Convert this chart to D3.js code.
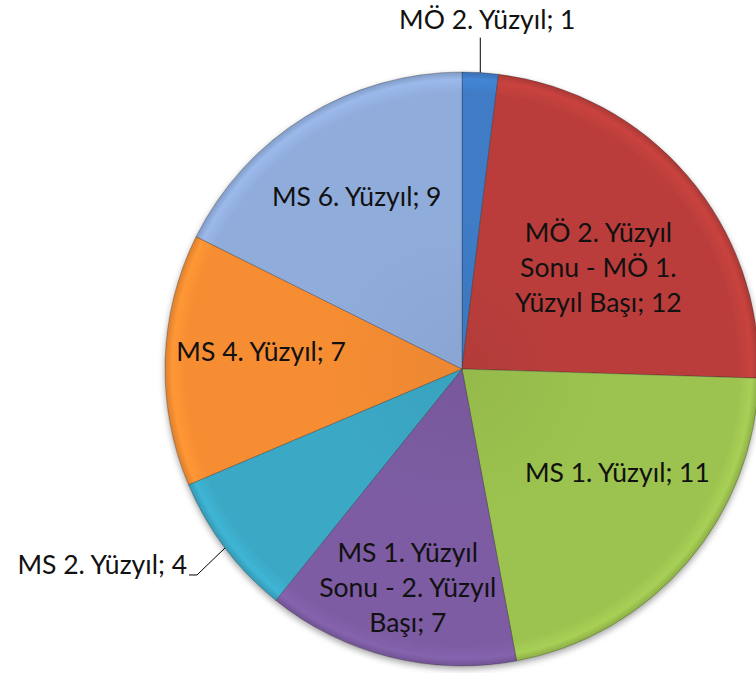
<!DOCTYPE html>
<html>
<head>
<meta charset="utf-8">
<script src="https://cdn.jsdelivr.net/npm/d3@7"></script>
<style>
  html, body { margin: 0; padding: 0; background: #fff; }
  svg { display: block; }
</style>
</head>
<body>
<svg id="chart" width="756" height="673"></svg>
<script>
// Dönem başına buluntu sayısı
const categories = [
  "MÖ 2. Yüzyıl",
  "MÖ 2. Yüzyıl Sonu - MÖ 1. Yüzyıl Başı",
  "MS 1. Yüzyıl",
  "MS 1. Yüzyıl Sonu - 2. Yüzyıl Başı",
  "MS 2. Yüzyıl",
  "MS 4. Yüzyıl",
  "MS 6. Yüzyıl"
];
const values = [1, 12, 11, 7, 4, 7, 9];
// Label text split into the lines drawn inside each slice
const labelLines = [
  ["MÖ 2. Yüzyıl; 1"],
  ["MÖ 2. Yüzyıl", "Sonu - MÖ 1.", "Yüzyıl Başı; 12"],
  ["MS 1. Yüzyıl; 11"],
  ["MS 1. Yüzyıl", "Sonu - 2. Yüzyıl", "Başı; 7"],
  ["MS 2. Yüzyıl; 4"],
  ["MS 4. Yüzyıl; 7"],
  ["MS 6. Yüzyıl; 9"]
];
const colors = ["#3f7cc6", "#bb3e3b", "#9cc24f", "#7d5ca3", "#3ba9c6", "#f68d32", "#90acdb"];

const W = 756, H = 673;
const cx = 462, cy = 369, R = 297;
const fontSize = 26.5;
const lineH = 35;

const svg = d3.select("#chart");
const defs = svg.append("defs");

// soft shadow under the pie
const shadow = defs.append("filter").attr("id", "shadow")
  .attr("x", "-10%").attr("y", "-10%").attr("width", "120%").attr("height", "125%");
shadow.append("feDropShadow").attr("dx", 0).attr("dy", 3).attr("stdDeviation", 3)
  .attr("flood-color", "#000").attr("flood-opacity", 0.35);

// bevel-like radial shading per slice colour (pie group is centred at 0,0)
colors.forEach((c, i) => {
  const base = d3.color(c);
  const g = defs.append("radialGradient").attr("id", "grad" + i)
    .attr("gradientUnits", "userSpaceOnUse")
    .attr("cx", 0).attr("cy", 0).attr("r", R);
  g.append("stop").attr("offset", 0).attr("stop-color", base.darker(0.12));
  g.append("stop").attr("offset", 0.5).attr("stop-color", base);
  g.append("stop").attr("offset", 0.93).attr("stop-color", base);
  g.append("stop").attr("offset", 0.975).attr("stop-color", base.brighter(0.2));
  g.append("stop").attr("offset", 1).attr("stop-color", base.darker(0.3));
});

const pie = d3.pie().sort(null).value(d => d)(values);
const arc = d3.arc().innerRadius(0).outerRadius(R);
const labelArc = d3.arc().innerRadius(R * 0.68).outerRadius(R * 0.68);

const g = svg.append("g").attr("transform", `translate(${cx},${cy})`);

g.append("g").attr("filter", "url(#shadow)")
  .selectAll("path").data(pie).join("path")
  .attr("d", arc)
  .attr("fill", (d, i) => `url(#grad${i})`)
  .attr("stroke", "rgba(40,40,40,0.4)")
  .attr("stroke-width", 0.8)
  .attr("stroke-linejoin", "round");

// label placement: inside slices around the centroid, small slices outside
const nudge = [null, [-17, 30], [2, -28], [-5, 23], null, [1, -11], [1, -1]];
const textStyle = sel => sel
  .attr("font-family", "Lato, 'Open Sans', sans-serif")
  .attr("font-size", fontSize)
  .attr("fill", "#111");

pie.forEach((d, i) => {
  const lines = labelLines[i];
  if (nudge[i]) {
    const [x, y] = labelArc.centroid(d);
    const x0 = x + nudge[i][0], y0 = y + nudge[i][1];
    const t = g.append("text").call(textStyle)
      .attr("text-anchor", "middle");
    lines.forEach((ln, k) => {
      t.append("tspan").attr("x", x0)
        .attr("y", y0 + (k - (lines.length - 1) / 2) * lineH + fontSize * 0.36)
        .text(ln);
    });
  }
});

// leader lines for the outside labels
const mid = d => (d.startAngle + d.endAngle) / 2;
const edge = d => [R * Math.sin(mid(d)), -R * Math.cos(mid(d))];

// top slice: vertical leader up to the label
{
  const d = pie[0];
  const [ex, ey] = edge(d);
  g.append("path")
    .attr("d", d3.line()([[ex, ey], [ex, ey - 35]]))
    .attr("stroke", "#000").attr("stroke-width", 1).attr("fill", "none");
  g.append("text").call(textStyle)
    .attr("text-anchor", "middle")
    .attr("x", ex + 7).attr("y", ey - 44)
    .text(labelLines[0][0]);
}
// lower-left slice: bent leader to a left label
{
  const d = pie[4];
  const [ex, ey] = edge(d);
  const px = ex - 28, py = ey + 27;
  g.append("path")
    .attr("d", d3.line()([[ex, ey], [px, py], [px - 8, py]]))
    .attr("stroke", "#000").attr("stroke-width", 1).attr("fill", "none");
  g.append("text").call(textStyle)
    .attr("text-anchor", "end")
    .attr("x", px - 10).attr("y", py - 1)
    .text(labelLines[4][0]);
}
</script>
</body>
</html>
